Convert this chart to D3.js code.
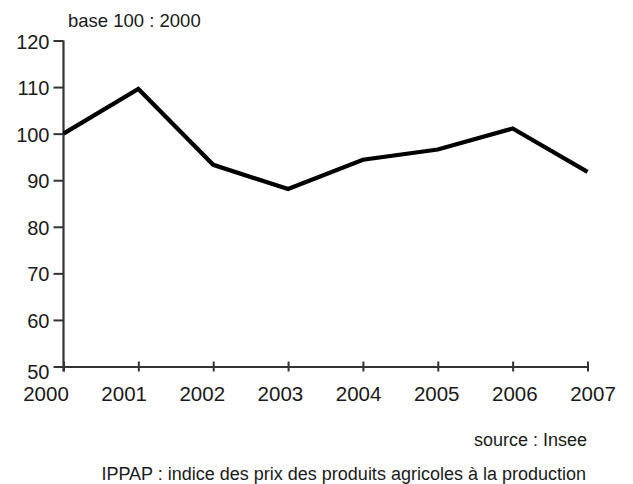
<!DOCTYPE html>
<html>
<head>
<meta charset="utf-8">
<script src="https://cdn.jsdelivr.net/npm/d3@7"></script>
<style>
  body { margin: 0; background: #fff; }
  text { font-family: "Liberation Sans", Arial, sans-serif; fill: #1a1a1a; }
</style>
</head>
<body>
<div id="chart"></div>
<script>
// Données (IPPAP, base 100 en 2000)
const years = [2000, 2001, 2002, 2003, 2004, 2005, 2006, 2007];
const ippap = [100, 109.6, 93.3, 88.1, 94.4, 96.6, 101.1, 91.8];
const yTicks = [50, 60, 70, 80, 90, 100, 110, 120];

const unitLabel = 'base 100 : 2000';
const sourceLabel = 'source : Insee';
const noteLabel = 'IPPAP : indice des prix des produits agricoles à la production';

const data = years.map((y, i) => ({ year: y, value: ippap[i] }));

const W = 633, H = 484;
const svg = d3.select('#chart')
  .append('svg')
  .attr('width', W)
  .attr('height', H);

// Echelles
const x = d3.scaleLinear()
  .domain([2000, 2007])
  .range([63.5, 587.5]);
const y = d3.scaleLinear()
  .domain([50, 120])
  .range([366.5, 40.5]);

// les étiquettes d'années ne sont pas exactement sous les graduations
const xLab = d3.scalePoint()
  .domain(years)
  .range([46, 593]);

const axisColor = '#333';

// Axe X (graduations de part et d'autre de l'axe)
const gx = svg.append('g')
  .attr('transform', `translate(0,${y(50)})`)
  .call(d3.axisBottom(x).tickValues(years).tickSize(5).tickSizeOuter(0).tickFormat(''));
gx.select('.domain').attr('stroke', axisColor).attr('stroke-width', 2.2);
gx.selectAll('.tick line').attr('stroke', axisColor).attr('stroke-width', 2).attr('y1', -5);

svg.append('g')
  .selectAll('text')
  .data(years)
  .join('text')
  .attr('x', d => xLab(d))
  .attr('y', 401)
  .attr('text-anchor', 'middle')
  .style('font-size', '20.5px')
  .text(d => d);

// Axe Y
const gy = svg.append('g')
  .attr('transform', `translate(${x(2000)},0)`)
  .call(d3.axisLeft(y).tickValues(yTicks).tickSize(10).tickSizeOuter(0).tickPadding(4));
gy.select('.domain').remove();
gy.selectAll('.tick line').attr('stroke', axisColor).attr('stroke-width', 2);
gy.selectAll('.tick text')
  .style('font-size', '20px')
  .style('font-family', '"Liberation Sans", Arial, sans-serif')
  .attr('fill', '#1a1a1a')
  .attr('dy', d => d === 50 ? '0.6em' : '0.38em');
gy.append('line')
  .attr('x1', 0).attr('x2', 0)
  .attr('y1', y(120)).attr('y2', y(50) + 5)
  .attr('stroke', axisColor)
  .attr('stroke-width', 2.2);

// Courbe
svg.append('path')
  .datum(data)
  .attr('fill', 'none')
  .attr('stroke', '#000')
  .attr('stroke-width', 4.2)
  .attr('stroke-linejoin', 'miter')
  .attr('d', d3.line()
    .x(d => x(d.year))
    .y(d => y(d.value)));

// Textes
svg.append('text')
  .attr('x', 68)
  .attr('y', 27)
  .style('font-size', '18.5px')
  .text(unitLabel);

svg.append('text')
  .attr('x', 587)
  .attr('y', 446)
  .attr('text-anchor', 'end')
  .style('font-size', '18px')
  .text(sourceLabel);

svg.append('text')
  .attr('x', 586)
  .attr('y', 480)
  .attr('text-anchor', 'end')
  .style('font-size', '18px')
  .text(noteLabel);
</script>
</body>
</html>
